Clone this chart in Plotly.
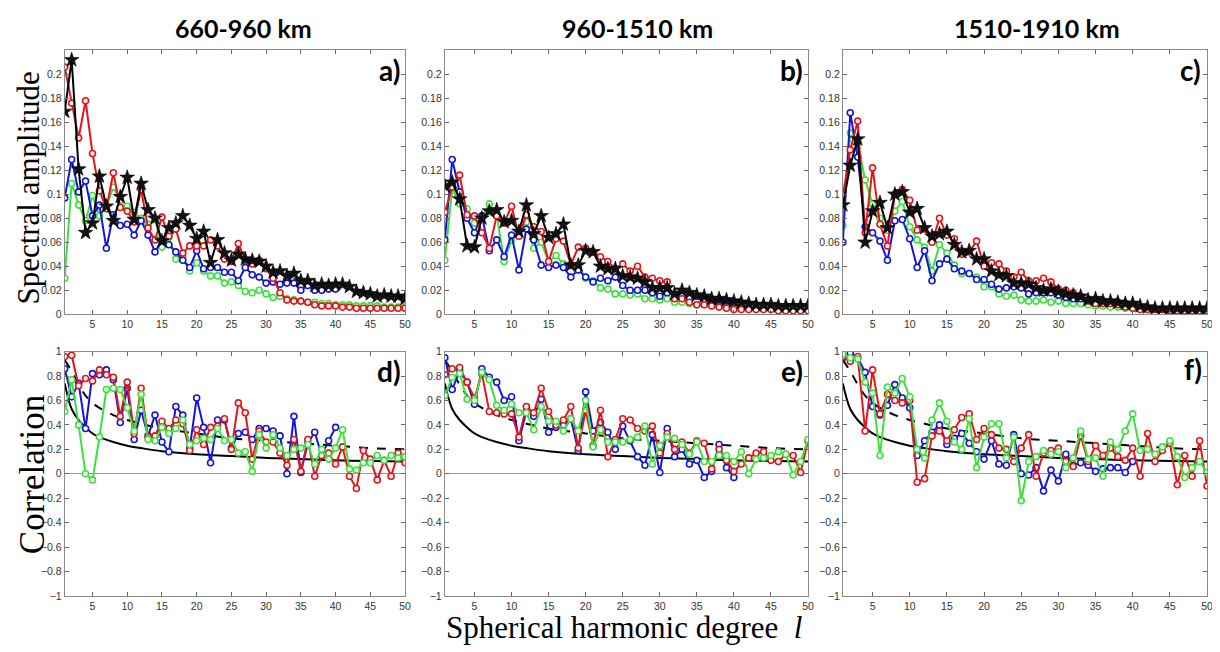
import plotly.graph_objects as go

# ---------------- data ----------------
degrees = list(range(1, 51))
degrees40 = list(range(1, 41))

# Spectral amplitude panels (a, b, c)
red_a = [0.206,0.176,0.147,0.178,0.134,0.103,0.088,0.118,0.089,0.086,
         0.077,0.104,0.072,0.062,0.081,0.065,0.071,0.051,0.057,0.057,
         0.057,0.062,0.057,0.046,0.044,0.059,0.045,0.042,0.045,0.038,
         0.030,0.018,0.012,0.011,0.011,0.010,0.008,0.007,0.007,0.007,
         0.006,0.006,0.005,0.005,0.005,0.005,0.005,0.005,0.005,0.005]
blue_a = [0.097,0.129,0.102,0.111,0.082,0.091,0.055,0.083,0.074,0.075,
          0.066,0.078,0.066,0.052,0.062,0.058,0.052,0.045,0.039,0.053,
          0.038,0.039,0.039,0.035,0.035,0.028,0.039,0.033,0.031,0.026,
          0.027,0.025,0.026,0.026,0.020,0.024,0.020,0.020,0.021,0.021]
green_a = [0.030,0.109,0.091,0.078,0.099,0.082,0.090,0.106,0.095,0.090,
           0.085,0.080,0.075,0.079,0.056,0.064,0.046,0.048,0.036,0.043,
           0.036,0.032,0.032,0.026,0.027,0.024,0.019,0.018,0.020,0.017,
           0.014,0.015,0.013,0.012,0.011,0.010,0.010,0.009,0.009,0.008,
           0.008,0.008,0.007,0.007,0.007,0.007,0.006,0.006,0.006,0.006]
black_a = [0.169,0.212,0.121,0.068,0.076,0.115,0.090,0.078,0.098,0.114,
           0.079,0.109,0.087,0.080,0.061,0.072,0.076,0.082,0.074,0.063,
           0.069,0.043,0.062,0.051,0.045,0.050,0.046,0.045,0.044,0.040,
           0.035,0.036,0.032,0.034,0.028,0.028,0.024,0.025,0.024,0.025,
           0.025,0.023,0.019,0.018,0.017,0.015,0.016,0.015,0.015,0.013]

red_b = [0.085,0.106,0.116,0.083,0.082,0.068,0.055,0.082,0.076,0.090,
         0.065,0.083,0.073,0.069,0.044,0.063,0.061,0.041,0.056,0.055,
         0.052,0.048,0.044,0.038,0.042,0.036,0.040,0.031,0.030,0.028,
         0.027,0.013,0.013,0.010,0.008,0.008,0.007,0.006,0.005,0.004,
         0.004,0.004,0.004,0.004,0.004,0.003,0.003,0.003,0.003,0.003]
blue_b = [0.062,0.129,0.102,0.080,0.068,0.082,0.053,0.062,0.048,0.066,
          0.037,0.071,0.062,0.041,0.039,0.041,0.039,0.031,0.037,0.031,
          0.027,0.030,0.028,0.031,0.024,0.020,0.020,0.020,0.018,0.015,
          0.018,0.016,0.015,0.014,0.015,0.013,0.012,0.012,0.011,0.010]
green_b = [0.045,0.105,0.092,0.088,0.076,0.080,0.092,0.083,0.044,0.062,
           0.068,0.077,0.055,0.060,0.044,0.049,0.042,0.041,0.041,0.030,
           0.028,0.022,0.021,0.017,0.017,0.016,0.017,0.013,0.013,0.012,
           0.013,0.010,0.010,0.009,0.008,0.008,0.008,0.007,0.007,0.006,
           0.006,0.006,0.005,0.005,0.005,0.005,0.004,0.004,0.004,0.004]
black_b = [0.107,0.110,0.096,0.057,0.056,0.080,0.086,0.087,0.077,0.078,
           0.069,0.091,0.067,0.082,0.064,0.067,0.075,0.041,0.041,0.053,
           0.052,0.040,0.038,0.038,0.032,0.031,0.030,0.027,0.022,0.022,
           0.022,0.017,0.020,0.018,0.016,0.015,0.013,0.013,0.012,0.011,
           0.010,0.009,0.008,0.008,0.008,0.007,0.007,0.007,0.007,0.007]

red_c = [0.099,0.137,0.161,0.068,0.122,0.075,0.057,0.100,0.104,0.095,
         0.070,0.071,0.060,0.080,0.066,0.063,0.050,0.052,0.061,0.040,
         0.043,0.042,0.036,0.031,0.035,0.028,0.028,0.030,0.027,0.021,
         0.020,0.018,0.015,0.011,0.009,0.009,0.009,0.008,0.006,0.005,
         0.004,0.004,0.004,0.004,0.003,0.003,0.003,0.003,0.003,0.003]
blue_c = [0.060,0.168,0.131,0.073,0.068,0.061,0.045,0.078,0.079,0.063,
          0.039,0.053,0.028,0.042,0.046,0.038,0.036,0.034,0.029,0.029,
          0.025,0.021,0.022,0.023,0.022,0.017,0.018,0.018,0.018,0.016,
          0.014,0.013,0.013,0.012,0.012,0.011,0.010,0.010,0.009,0.008]
green_c = [0.074,0.151,0.143,0.112,0.092,0.080,0.070,0.086,0.094,0.073,
           0.062,0.056,0.036,0.058,0.051,0.041,0.034,0.034,0.031,0.023,
           0.023,0.017,0.015,0.016,0.012,0.011,0.011,0.012,0.010,0.011,
           0.009,0.009,0.009,0.008,0.007,0.007,0.006,0.006,0.005,0.005,
           0.005,0.004,0.004,0.004,0.004,0.003,0.003,0.003,0.003,0.003]
black_c = [0.091,0.124,0.146,0.060,0.086,0.093,0.072,0.100,0.102,0.085,
           0.088,0.072,0.065,0.067,0.069,0.058,0.052,0.053,0.046,0.046,
           0.036,0.033,0.032,0.026,0.026,0.025,0.022,0.020,0.021,0.019,
           0.017,0.016,0.015,0.012,0.013,0.011,0.011,0.010,0.009,0.009,
           0.007,0.006,0.005,0.005,0.005,0.005,0.005,0.005,0.005,0.005]

# Correlation panels (d, e, f)
red_d = [0.96,0.97,0.72,0.78,0.76,0.85,0.81,0.79,0.47,0.75,
         0.33,0.70,0.30,0.31,0.43,0.37,0.44,0.41,0.19,0.36,
         0.24,0.38,0.39,0.45,0.20,0.58,0.50,0.12,0.35,0.26,
         0.26,0.17,0.07,0.28,0.02,0.28,-0.02,0.15,0.17,0.08,
         0.22,-0.02,-0.12,0.19,0.12,-0.05,0.11,-0.02,0.17,0.09]
blue_d = [0.86,0.63,0.74,0.37,0.82,0.81,0.85,0.77,0.42,0.70,
          0.28,0.52,0.31,0.48,0.26,0.18,0.55,0.48,0.21,0.62,
          0.38,0.09,0.44,0.44,0.21,0.33,0.34,0.28,0.37,0.37,
          0.35,0.31,0.00,0.47,0.01,0.25,0.34,0.15,0.27,0.38]
green_d = [0.51,0.77,0.40,0.00,-0.05,0.30,0.69,0.70,0.69,0.54,
           0.35,0.65,0.28,0.27,0.38,0.33,0.37,0.44,0.24,0.27,
           0.29,0.28,0.37,0.27,0.28,0.17,0.18,0.02,0.32,0.21,
           0.32,0.21,0.15,0.20,0.21,0.24,0.08,0.20,0.12,0.21,
           0.36,0.04,0.03,0.09,0.09,0.15,0.11,0.15,0.13,0.14]

red_e = [0.81,0.86,0.87,0.75,0.62,0.82,0.51,0.50,0.49,0.49,
         0.30,0.55,0.50,0.70,0.51,0.40,0.44,0.55,0.21,0.52,
         0.23,0.52,0.14,0.28,0.45,0.44,0.37,0.35,0.39,0.17,
         0.33,0.20,0.26,0.17,0.27,0.25,0.04,0.20,0.11,0.02,
         0.08,0.13,0.17,0.18,0.11,0.10,0.16,0.15,0.01,0.27]
blue_e = [0.95,0.69,0.84,0.75,0.57,0.86,0.79,0.75,0.60,0.63,
          0.27,0.51,0.47,0.61,0.34,0.38,0.40,0.45,0.19,0.67,
          0.35,0.42,0.34,0.20,0.39,0.27,0.14,0.07,0.32,0.01,
          0.37,0.14,0.20,0.08,0.11,-0.03,0.02,0.24,0.05,-0.03]
green_e = [0.64,0.79,0.82,0.61,0.60,0.83,0.77,0.56,0.52,0.57,
           0.50,0.50,0.36,0.55,0.43,0.43,0.35,0.45,0.35,0.60,
           0.22,0.36,0.26,0.26,0.26,0.28,0.30,0.39,0.08,0.23,
           0.30,0.29,0.24,0.16,0.26,0.10,0.10,0.15,0.15,0.10,
           0.18,0.00,0.12,0.13,0.15,0.18,0.16,-0.01,0.10,0.28]

red_f = [0.96,0.92,0.96,0.35,0.85,0.49,0.65,0.60,0.58,0.60,
         -0.07,-0.04,0.31,0.35,0.27,0.36,0.46,0.49,0.28,0.37,
         0.32,0.21,0.20,0.10,0.21,0.32,-0.02,0.17,0.19,0.21,
         0.10,0.06,0.31,0.10,0.23,0.15,0.21,0.14,0.11,0.21,
         -0.02,0.33,0.10,0.19,0.25,-0.09,0.15,-0.02,0.27,-0.10]
blue_f = [0.95,0.99,0.95,0.83,0.55,0.48,0.56,0.73,0.62,0.54,
          0.15,0.27,0.34,0.40,0.24,0.29,0.33,0.25,0.18,0.12,
          0.27,0.08,0.07,0.32,0.00,-0.01,0.05,-0.14,0.03,-0.06,
          0.16,0.07,0.09,0.07,0.02,0.04,0.05,0.05,0.01,0.10]
green_f = [0.98,0.95,0.94,0.75,0.66,0.15,0.71,0.66,0.78,0.63,
           0.20,0.13,0.44,0.58,0.43,0.26,0.20,0.45,0.05,0.30,
           0.41,0.41,0.13,0.30,-0.22,0.10,0.14,0.19,0.16,0.18,
           0.05,0.13,0.35,0.12,0.13,-0.02,0.26,0.20,0.35,0.49,
           0.19,0.20,0.16,0.22,0.27,0.14,-0.03,0.05,0.10,0.01]

# significance reference curves (read at selected degrees)
sig_degrees = [1,2,3,4,5,6,8,10,12,15,20,25,30,35,40,45,50]
sig_solid = [0.74,0.53,0.44,0.38,0.33,0.30,0.26,0.23,0.21,0.185,0.16,0.145,0.13,0.12,0.11,0.105,0.10]
sig_dashed = [0.93,0.84,0.73,0.64,0.58,0.54,0.48,0.44,0.41,0.37,0.33,0.29,0.27,0.25,0.23,0.21,0.20]

panel_titles = ["660-960 km", "960-1510 km", "1510-1910 km"]
panel_letters = ["a)", "b)", "c)", "d)", "e)", "f)"]
x_ticks = [5,10,15,20,25,30,35,40,45,50]
amp_ticks = [0,0.02,0.04,0.06,0.08,0.1,0.12,0.14,0.16,0.18,0.2]
amp_ticktext = ["0","0.02","0.04","0.06","0.08","0.1","0.12","0.14","0.16","0.18","0.2"]
cor_ticks = [-1,-0.8,-0.6,-0.4,-0.2,0,0.2,0.4,0.6,0.8,1]
cor_ticktext = ["\u22121","\u22120.8","\u22120.6","\u22120.4","\u22120.2","0","0.2","0.4","0.6","0.8","1"]

# ---------------- styling ----------------
OFF = 8                      # default page body margin
W, H = 1220 - OFF, 652 - OFF
RED, BLUE, GREEN, BLACK = "#e5141b", "#1414dc", "#3ee03e", "#000000"

def fx(px):
    return (px - OFF) / W

def fy(py):
    return 1 - (py - OFF) / H

xdoms_px = [(65, 407), (447, 812), (847, 1213)]
top_px = (45, 314)
bot_px = (352, 601)

fig = go.Figure()

def circ(x, y, color, ax):
    fig.add_trace(go.Scatter(
        x=x, y=y, mode="lines+markers", xaxis="x" + ax, yaxis="y" + ax,
        line=dict(color=color, width=2),
        marker=dict(symbol="circle", size=6, color="white",
                    line=dict(color=color, width=1.6)),
        showlegend=False, hoverinfo="skip"))

def stars(x, y, ax):
    fig.add_trace(go.Scatter(
        x=x, y=y, mode="lines+markers", xaxis="x" + ax, yaxis="y" + ax,
        line=dict(color=BLACK, width=2),
        marker=dict(symbol="star", size=11, color="#111111",
                    line=dict(color="#000000", width=0.6)),
        showlegend=False, hoverinfo="skip"))

def sigline(ax):
    fig.add_trace(go.Scatter(
        x=sig_degrees, y=sig_solid, mode="lines", xaxis="x" + ax, yaxis="y" + ax,
        line=dict(color=BLACK, width=2, shape="spline"),
        showlegend=False, hoverinfo="skip"))
    fig.add_trace(go.Scatter(
        x=sig_degrees, y=sig_dashed, mode="lines", xaxis="x" + ax, yaxis="y" + ax,
        line=dict(color=BLACK, width=2, dash="dash", shape="spline"),
        showlegend=False, hoverinfo="skip"))

amp_sets = [(red_a, blue_a, green_a, black_a),
            (red_b, blue_b, green_b, black_b),
            (red_c, blue_c, green_c, black_c)]
cor_sets = [(red_d, blue_d, green_d),
            (red_e, blue_e, green_e),
            (red_f, blue_f, green_f)]

for i, (r, b, g, k) in enumerate(amp_sets):
    ax = "" if i == 0 else str(i + 1)
    circ(degrees, g, GREEN, ax)
    circ(degrees40, b, BLUE, ax)
    circ(degrees, r, RED, ax)
    stars(degrees, k, ax)

for i, (r, b, g) in enumerate(cor_sets):
    ax = str(i + 4)
    sigline(ax)
    circ(degrees40, b, BLUE, ax)
    circ(degrees, r, RED, ax)
    circ(degrees, g, GREEN, ax)

tickfont = dict(family="Liberation Sans, Arial", size=10.5, color="#333333")
layout = dict(width=W, height=H, margin=dict(l=0, r=0, t=0, b=0),
              paper_bgcolor="white", plot_bgcolor="white")

for i in range(6):
    col = i % 3
    row = i // 3
    n = "" if i == 0 else str(i + 1)
    x0, x1 = xdoms_px[col]
    y0, y1 = top_px if row == 0 else bot_px
    xa = dict(domain=[fx(x0), fx(x1)], range=[1, 50], anchor="y" + n,
              tickvals=x_ticks, ticks="inside", ticklen=4, tickcolor="#666",
              showline=True, linecolor="#8a8a8a", linewidth=1, mirror="ticks",
              showgrid=False, zeroline=False, tickfont=tickfont)
    ya = dict(domain=[fy(y1), fy(y0)], anchor="x" + n,
              ticks="inside", ticklen=4, tickcolor="#666",
              showline=True, linecolor="#8a8a8a", linewidth=1, mirror="ticks",
              showgrid=False, tickfont=tickfont)
    if row == 0:
        ya.update(range=[0, 0.22], tickvals=amp_ticks, ticktext=amp_ticktext, zeroline=False)
    else:
        ya.update(range=[-1, 1], tickvals=cor_ticks, ticktext=cor_ticktext,
                  zeroline=True, zerolinecolor="#9a9a9a", zerolinewidth=1)
    layout["xaxis" + n] = xa
    layout["yaxis" + n] = ya

fig.update_layout(**layout)

ann = []
title_centers = [245, 641, 1042]
for t, cx in zip(panel_titles, title_centers):
    ann.append(dict(text="<b>" + t + "</b>", x=fx(cx), y=fy(22), xref="paper", yref="paper",
                    showarrow=False, xanchor="center", yanchor="middle",
                    font=dict(family="Lato, Open Sans", size=25, color="black")))
letter_pos = [(404, 65), (809, 65), (1209, 65), (405, 372), (809, 372), (1210, 370)]
for t, (px, py) in zip(panel_letters, letter_pos):
    ann.append(dict(text="<b>" + t + "</b>", x=fx(px), y=fy(py), xref="paper", yref="paper",
                    showarrow=False, xanchor="right", yanchor="middle",
                    font=dict(family="Lato, Open Sans", size=28, color="black")))
ann.append(dict(text="Spectral amplitude", x=fx(29), y=fy(185), xref="paper", yref="paper",
                showarrow=False, textangle=-90, xanchor="center", yanchor="middle",
                font=dict(family="Liberation Serif, Times New Roman", size=31, color="black")))
ann.append(dict(text="Correlation", x=fx(32), y=fy(477), xref="paper", yref="paper",
                showarrow=False, textangle=-90, xanchor="center", yanchor="middle",
                font=dict(family="Liberation Serif, Times New Roman", size=35, color="black")))
ann.append(dict(text="Spherical harmonic degree  <i>l</i>", x=fx(627), y=fy(633),
                xref="paper", yref="paper", showarrow=False, xanchor="center", yanchor="middle",
                font=dict(family="Liberation Serif, Times New Roman", size=31, color="black")))
fig.update_layout(annotations=ann)

fig.write_html("out.html")
